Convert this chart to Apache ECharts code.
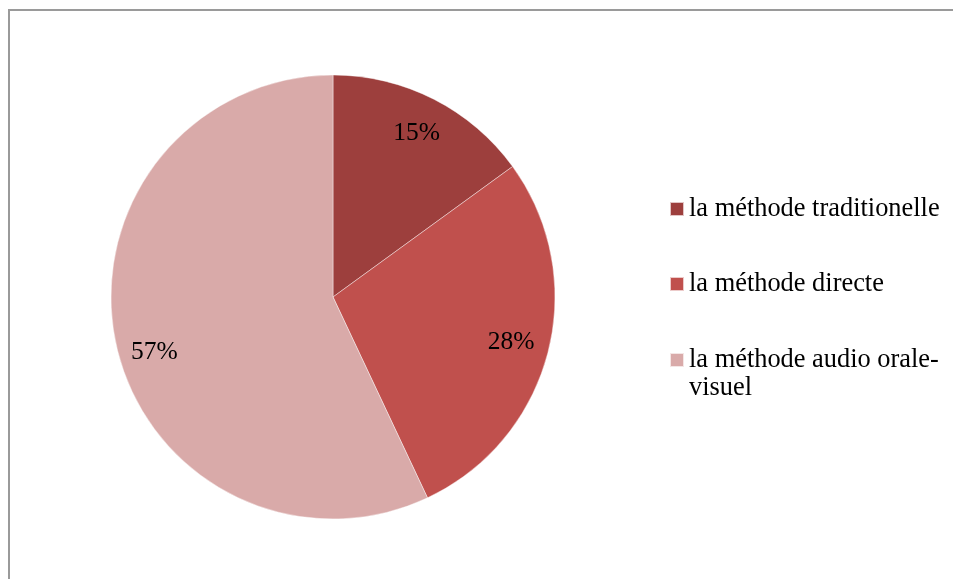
<!DOCTYPE html>
<html>
<head>
<meta charset="utf-8">
<script src="https://cdn.jsdelivr.net/npm/echarts@6/dist/echarts.min.js"></script>
<style>
  html, body { margin: 0; padding: 0; background: #ffffff; }
  #chart { width: 953px; height: 579px; }
</style>
</head>
<body>
<div id="chart"></div>
<script>
// Teaching methods: share of responses (%)
const categories = [
  'la méthode traditionelle',
  'la méthode directe',
  'la méthode audio orale-\nvisuel'
];
const values = [15, 28, 57];
const colors = ['#9d3f3d', '#c0504d', '#d9aaa9'];

const FONT = '"Liberation Serif", "Times New Roman", serif';

const chart = echarts.init(document.getElementById('chart'), null, { renderer: 'canvas' });

const pieData = categories.map((name, i) => ({
  name: name,
  value: values[i],
  itemStyle: { color: colors[i] }
}));

// percentage labels sit on a transparent ring laid over the pie
const labelData = categories.map((name, i) => ({
  name: name,
  value: values[i],
  label: i === 2 ? { offset: [1, 15] } : {}
}));

const legendBase = {
  orient: 'vertical',
  left: 669,
  padding: 0,
  itemWidth: 14,
  itemHeight: 14,
  itemGap: 6,
  icon: 'rect',
  selectedMode: false,
  textStyle: { fontFamily: FONT, fontSize: 26.4, color: '#000', lineHeight: 28 }
};

chart.setOption({
  animation: false,
  backgroundColor: '#ffffff',
  graphic: [{
    type: 'rect',
    silent: true,
    z: -10,
    shape: { x: 9, y: 10, width: 980, height: 620 },
    style: { fill: 'none', stroke: '#9a9a9a', lineWidth: 2 }
  }],
  legend: [
    Object.assign({}, legendBase, { top: 195, data: [categories[0]] }),
    Object.assign({}, legendBase, { top: 270, data: [categories[1]] }),
    // leading blank line keeps the first text line level with the swatch
    Object.assign({}, legendBase, { top: 318, data: [categories[2]], formatter: '\n{name}' })
  ],
  series: [
    {
      type: 'pie',
      center: [333, 297],
      radius: [0, 222],
      startAngle: 90,
      clockwise: true,
      silent: true,
      label: { show: false },
      labelLine: { show: false },
      itemStyle: { borderColor: 'rgba(255,255,255,0.7)', borderWidth: 0.6 },
      data: pieData
    },
    {
      type: 'pie',
      center: [333, 297],
      radius: [140, 222],
      startAngle: 90,
      clockwise: true,
      silent: true,
      legendHoverLink: false,
      itemStyle: { color: 'rgba(0,0,0,0)' },
      label: {
        show: true,
        position: 'inside',
        formatter: '{c}%',
        fontFamily: FONT,
        fontSize: 25.5,
        color: '#000'
      },
      labelLine: { show: false },
      data: labelData
    }
  ]
});
</script>
</body>
</html>
